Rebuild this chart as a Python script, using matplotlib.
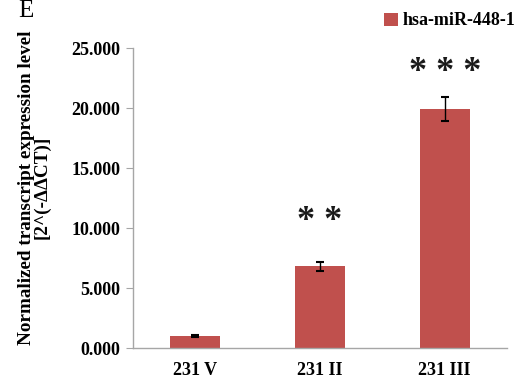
import matplotlib
matplotlib.use('Agg')
import matplotlib.pyplot as plt
import numpy as np

# expression data
groups = ['231 V', '231 II', '231 III']
expr = [1.0, 6.8, 19.9]
expr_err = [0.1, 0.35, 1.0]
stars = ['', '* *', '* * *']
star_y = [0, 10.9, 23.3]
yticks = [0, 5, 10, 15, 20, 25]

plt.rcParams['font.family'] = ['Liberation Serif', 'DejaVu Serif']
plt.rcParams['font.weight'] = 'bold'

fig = plt.figure(figsize=(5.26, 3.81), dpi=100)
ax = fig.add_axes([0.253, 0.0866, 0.711, 0.7874])

x = np.arange(len(groups))
ax.bar(x, expr, width=0.4, color='#C0504D', label='hsa-miR-448-1', zorder=2)
ax.errorbar(x, expr, yerr=expr_err, fmt='none', ecolor='black',
            elinewidth=1.0, capsize=3, capthick=1.5, zorder=3)

# significance marks above the bars
for xi, s, sy in zip(x, stars, star_y):
    if s:
        ax.text(xi, sy, s, ha='center', va='center_baseline', fontsize=26,
                fontweight='bold', color='#1a1a1a')

ax.set_xlim(-0.5, 2.5)
ax.set_ylim(0, 25)
ax.set_yticks(yticks)
ax.set_yticklabels(['%.3f' % v for v in yticks], fontsize=13, fontweight='bold')
ax.set_xticks(x)
ax.set_xticklabels(groups, fontsize=13, fontweight='bold')
ax.tick_params(axis='x', length=0, pad=10)
ax.tick_params(axis='y', length=5, color='#a6a6a6', pad=4)

for sp in ['top', 'right']:
    ax.spines[sp].set_visible(False)
for sp in ['left', 'bottom']:
    ax.spines[sp].set_color('#a6a6a6')
    ax.spines[sp].set_linewidth(1.0)

ax.set_ylabel('Normalized transcript expression level\n[2^(-ΔΔCT)]',
              fontsize=13.8, fontweight='bold', linespacing=0.9)
ax.yaxis.set_label_coords(-0.22, 0.535)

leg = fig.legend(loc='upper left', bbox_to_anchor=(0.70, 1.01), frameon=False,
                 prop={'size': 13, 'weight': 'bold'}, handlelength=0.75,
                 handleheight=0.75, handletextpad=0.25)

fig.text(0.035, 1.0, 'E', fontsize=18, fontweight='normal', va='top')

fig.savefig('out.png', dpi=100)
